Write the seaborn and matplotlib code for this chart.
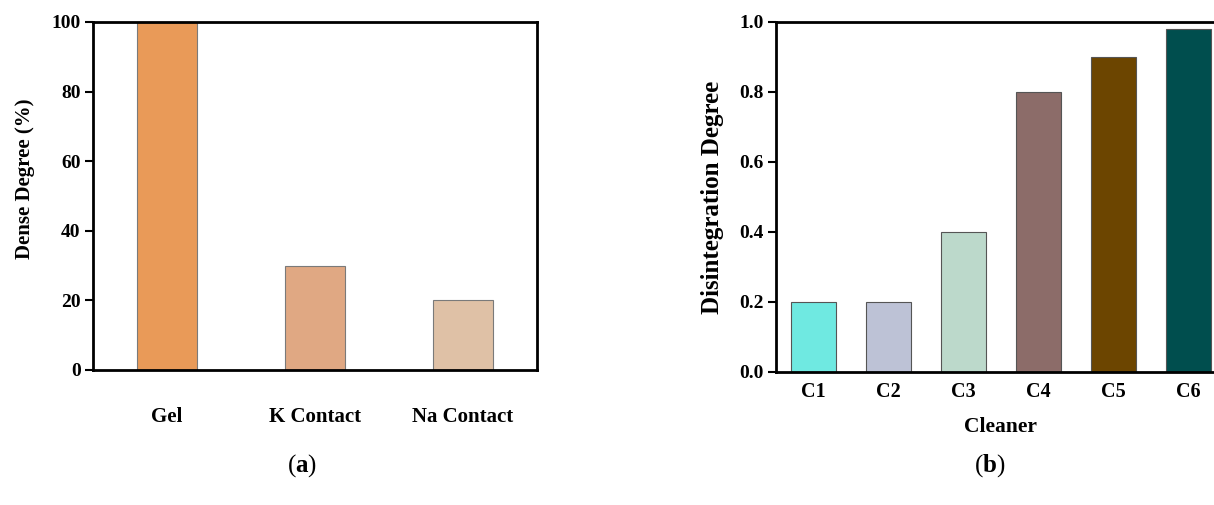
import matplotlib
matplotlib.use("Agg")
import matplotlib.pyplot as plt
import seaborn as sns
import pandas as pd

# Data
cats_a = ["Gel", "K Contact", "Na Contact"]
vals_a = [100, 30, 20]
colors_a = ["#E99A58", "#E0A883", "#DFC1A6"]

cats_b = ["C1", "C2", "C3", "C4", "C5", "C6"]
vals_b = [0.2, 0.2, 0.4, 0.8, 0.9, 0.98]
colors_b = ["#6FE9E1", "#BDC2D6", "#BCD9CB", "#8C6C69", "#6C4500", "#004E4E"]

sns.set_theme(style="white")
plt.rcParams["font.family"] = ["Liberation Serif", "DejaVu Serif"]
plt.rcParams["font.weight"] = "bold"
plt.rcParams["text.color"] = "black"
plt.rcParams["axes.labelcolor"] = "black"
plt.rcParams["xtick.color"] = "black"
plt.rcParams["ytick.color"] = "black"
plt.rcParams["mathtext.fontset"] = "custom"
plt.rcParams["mathtext.rm"] = "Liberation Serif"
plt.rcParams["mathtext.bf"] = "Liberation Serif:bold"

fig = plt.figure(figsize=(12.14, 5.05), dpi=100)
W, H = 1214, 505
ax1 = fig.add_axes([93 / W, (H - 370) / H, 444 / W, 348 / H])
ax2 = fig.add_axes([776 / W, (H - 372) / H, 450 / W, 350 / H])

df_a = pd.DataFrame({"cat": cats_a, "val": vals_a})
sns.barplot(data=df_a, x="cat", y="val", hue="cat", palette=colors_a, saturation=1,
            legend=False, width=0.405, edgecolor="#7a7a7a", linewidth=0.8, ax=ax1)
ax1.set_xlim(-0.5, 2.5)
ax1.set_ylim(0, 100)
ax1.set_yticks([0, 20, 40, 60, 80, 100])
ax1.set_xlabel("")
ax1.set_ylabel("Dense Degree (%)", fontsize=15, fontweight="bold", labelpad=12)
ax1.yaxis.label.set_y(0.55)
ax1.tick_params(axis="x", length=0, pad=27, labelsize=15)
ax1.tick_params(axis="y", length=6, width=1.5, direction="out", left=True, labelsize=14, pad=3)

df_b = pd.DataFrame({"cat": cats_b, "val": vals_b})
sns.barplot(data=df_b, x="cat", y="val", hue="cat", palette=colors_b, saturation=1,
            legend=False, width=0.6, edgecolor="#555555", linewidth=0.8, ax=ax2)
ax2.set_xlim(-0.5, 5.5)
ax2.set_ylim(0, 1.0)
ax2.set_yticks([0.0, 0.2, 0.4, 0.6, 0.8, 1.0])
ax2.set_yticklabels(["0.0", "0.2", "0.4", "0.6", "0.8", "1.0"])
ax2.set_xlabel("Cleaner", fontsize=15.5, fontweight="bold", labelpad=11)
ax2.set_ylabel("Disintegration Degree", fontsize=18, fontweight="bold", labelpad=11)
ax2.tick_params(axis="x", length=0, pad=7, labelsize=14.5)
ax2.tick_params(axis="y", length=6, width=1.5, direction="out", left=True, labelsize=14, pad=3)

for ax in (ax1, ax2):
    for s in ax.spines.values():
        s.set_visible(True)
        s.set_color("black")
        s.set_linewidth(2.0)
    for lab in ax.get_xticklabels() + ax.get_yticklabels():
        lab.set_fontweight("bold")
        lab.set_color("black")

fig.text(302 / W, 1 - 466 / H, r"($\mathbf{a}$)", ha="center", va="center", fontsize=18, fontweight="normal")
fig.text(990 / W, 1 - 466 / H, r"($\mathbf{b}$)", ha="center", va="center", fontsize=18, fontweight="normal")

fig.savefig("out.png", dpi=100)
